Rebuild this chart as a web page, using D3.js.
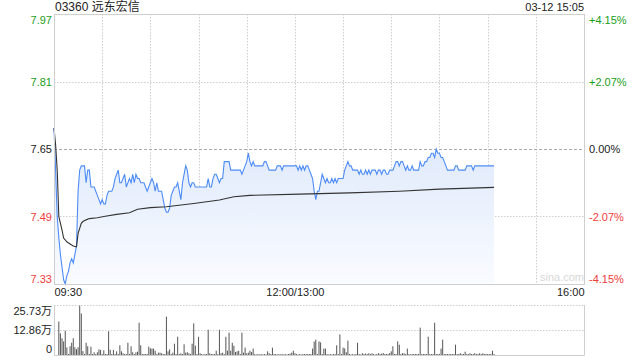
<!DOCTYPE html>
<html>
<head>
<meta charset="utf-8">
<script src="https://cdn.jsdelivr.net/npm/d3@7"></script>
<style>
  body { margin: 0; background: #fff; }
  svg { display: block; font-family: "Liberation Sans", Arial, "Noto Sans CJK SC", sans-serif; }
</style>
</head>
<body>
<figure id="chart" style="margin:0"></figure>
<script>
// ---- data ----
const title = "03360 远东宏信";
const stamp = "03-12 15:05";
const prevClose = 7.65;

const priceTicks = [7.97, 7.81, 7.65, 7.49, 7.33];
const pctLabels = ["+4.15%", "+2.07%", "0.00%", "-2.07%", "-4.15%"];
const timeTicks = [0, 150, 330];
const timeLabels = ["09:30", "12:00/13:00", "16:00"];
const volTicks = [25.73, 12.86, 0];
const volLabels = ["25.73万", "12.86万", "0"];

// one price per minute, 09:30 .. 15:04 (lunch break folded)
const prices = [
  7.70,7.60,7.49,7.44,7.40,7.37,7.34,7.33,7.35,7.36,
  7.38,7.39,7.38,7.40,7.42,7.55,7.60,7.61,7.61,7.61,
  7.57,7.60,7.60,7.56,7.56,7.56,7.55,7.54,7.53,7.52,
  7.53,7.52,7.52,7.54,7.55,7.55,7.55,7.56,7.58,7.59,
  7.60,7.57,7.57,7.58,7.59,7.56,7.57,7.58,7.57,7.59,
  7.57,7.59,7.58,7.58,7.57,7.57,7.57,7.56,7.55,7.56,
  7.57,7.58,7.57,7.55,7.57,7.55,7.55,7.55,7.53,7.51,
  7.50,7.50,7.51,7.54,7.55,7.56,7.56,7.57,7.55,7.53,
  7.57,7.59,7.61,7.60,7.57,7.56,7.57,7.57,7.56,7.56,
  7.56,7.56,7.56,7.56,7.56,7.56,7.58,7.56,7.56,7.58,
  7.59,7.59,7.58,7.57,7.58,7.58,7.62,7.62,7.62,7.62,
  7.60,7.60,7.60,7.60,7.60,7.60,7.60,7.59,7.60,7.61,
  7.62,7.64,7.62,7.61,7.62,7.61,7.61,7.61,7.61,7.61,
  7.61,7.62,7.62,7.61,7.60,7.60,7.60,7.60,7.60,7.61,
  7.61,7.61,7.60,7.61,7.61,7.61,7.61,7.61,7.61,7.61,
  7.61,7.61,7.60,7.61,7.60,7.61,7.60,7.61,7.61,7.60,
  7.59,7.58,7.55,7.53,7.55,7.55,7.57,7.59,7.58,7.57,
  7.58,7.57,7.57,7.58,7.57,7.58,7.57,7.58,7.58,7.58,
  7.58,7.60,7.61,7.62,7.61,7.61,7.60,7.60,7.60,7.60,
  7.59,7.60,7.59,7.59,7.60,7.59,7.60,7.59,7.60,7.60,
  7.60,7.59,7.60,7.60,7.59,7.60,7.60,7.59,7.59,7.60,
  7.60,7.60,7.61,7.62,7.62,7.61,7.62,7.62,7.61,7.60,
  7.61,7.60,7.60,7.61,7.60,7.60,7.60,7.60,7.62,7.61,
  7.61,7.62,7.62,7.63,7.63,7.64,7.64,7.63,7.65,7.64,
  7.64,7.63,7.63,7.62,7.61,7.60,7.60,7.60,7.60,7.60,
  7.61,7.61,7.60,7.60,7.60,7.60,7.60,7.61,7.61,7.61,
  7.61,7.60,7.61,7.61,7.61,7.61,7.61,7.61,7.61,7.61,
  7.61,7.61,7.61,7.61,7.61
];

// average price line, sampled where it bends
const avgMinutes = [0, 1, 2, 3, 5, 6, 8, 10, 12, 14, 15, 17, 18, 20, 22, 27, 31, 39, 47, 52, 60, 70, 87, 103, 112, 122, 153, 184, 215, 240, 274];
const avgValues = [7.70, 7.66, 7.60, 7.49, 7.458, 7.439, 7.43, 7.425, 7.42, 7.418, 7.45, 7.474, 7.478, 7.482, 7.485, 7.487, 7.49, 7.495, 7.499, 7.507, 7.511, 7.513, 7.521, 7.529, 7.537, 7.54, 7.543, 7.546, 7.55, 7.555, 7.559];

// volume per minute, in 万
const volumes = [
  0,0,0,17.2,11.1,8.6,7.0,12.5,3.9,0.5,
  4.5,6.3,8.6,4.0,3.0,4.0,25.4,21.4,2.0,0.5,
  6.3,4.5,0.5,4.3,0.5,1.4,0.5,1.4,2.9,2.6,
  0.5,2.4,0.5,0.5,12.2,2.7,0.5,2.6,0.5,1.9,
  0.5,5.0,1.9,0.9,0.5,0.5,6.3,0.5,4.5,1.4,
  0.5,1.4,1.7,16.6,5.0,0.5,0.5,0.5,0.5,4.3,
  3.4,3.3,3.3,2.2,0.5,1.2,1.2,0.9,0.5,0.5,
  19.7,1.9,2.9,0.5,1.2,5.8,0.5,9.4,0.5,0.9,
  0.5,5.5,1.2,1.4,0.9,0.5,5.8,16.3,4.8,0.5,
  9.4,0.9,0.5,0.3,0.5,0.5,13.0,0.9,0.5,0.5,
  0.5,2.2,0.5,13.0,0.9,1.2,0.5,9.4,2.2,11.5,
  2.2,6.3,4.8,1.5,1.9,2.2,0.5,11.5,1.2,3.8,
  0.9,1.2,2.2,1.5,3.3,0.5,0.3,0.5,0.3,0.5,
  0.3,0.5,0.3,1.9,0.9,0.5,3.8,0.5,0.5,0.3,
  0.5,0.3,0.5,0.3,0.5,0.3,0.5,0.7,1.2,2.2,
  0.9,0.5,0.3,0.5,0.3,0.5,0.5,0.5,0.5,0.5,
  0.5,3.3,6.9,7.9,0.5,7.0,6.5,0.5,3.3,3.3,
  0.5,0.3,0.5,0.3,0.5,0.5,5.0,0.5,10.6,0.5,
  3.8,3.4,1.4,7.4,0.5,0.3,0.5,0.3,0.5,6.3,
  0.5,0.3,0.9,0.5,0.7,0.5,0.9,0.5,0.9,0.5,
  0.3,0.5,0.9,0.5,0.7,1.0,0.5,0.5,0.5,1.0,
  1.9,4.5,0.5,0.5,7.0,5.3,0.5,0.9,0.9,0.5,
  3.3,0.5,0.3,0.5,0.5,0.5,0.5,0.5,14.1,0.5,
  0.5,0.5,0.5,9.4,0.5,0.5,0.5,16.6,0.5,0.5,
  0.5,3.3,7.9,0.5,0.5,0.5,0.5,0.5,0.5,0.5,
  5.3,0.5,0.5,0.9,0.5,0.5,1.7,0.5,0.5,0.9,
  0.5,0.5,0.9,0.5,0.5,0.9,0.5,0.9,0.5,0.5,
  0.5,0.5,0.5,2.2,0.5
];

// ---- layout ----
const width = 640, height = 360;
const plotLeft = 54, plotRight = 584;
const plotTop = 14, plotBottom = 284;
const volTop = 305, volBottom = 355;

const green = "#1a9e1a", red = "#f03c3c", ink = "#222", grid = "#cfcfcf";

const svg = d3.select("figure#chart")
  .append("svg")
  .attr("width", width)
  .attr("height", height);

const xScale = d3.scaleLinear().domain([0, 330]).range([plotLeft, plotRight]);
const yScale = d3.scaleLinear().domain([7.33, 7.97]).range([plotBottom, plotTop]);
const vScale = d3.scaleLinear().domain([0, 25.73]).range([volBottom, volTop]);

function tickColor(i) {
  if (i < 2) return green;
  if (i === 2) return ink;
  return red;
}

// gradient under the price line
const defs = svg.append("defs");
const grad = defs.append("linearGradient")
  .attr("id", "fill")
  .attr("x1", 0).attr("y1", 0).attr("x2", 0).attr("y2", 1);
grad.append("stop").attr("offset", "0%").attr("stop-color", "#dde8fb");
grad.append("stop").attr("offset", "100%").attr("stop-color", "#f9fbff");

// ---- grid ----
svg.append("g")
  .selectAll("line")
  .data(d3.range(30, 330, 30))
  .enter().append("line")
  .attr("x1", d => Math.round(xScale(d)) + 0.5).attr("x2", d => Math.round(xScale(d)) + 0.5)
  .attr("y1", plotTop).attr("y2", plotBottom)
  .attr("stroke", grid)
  .attr("stroke-dasharray", "1.5,1.5");

svg.append("g")
  .selectAll("line")
  .data(priceTicks.slice(1, 4))
  .enter().append("line")
  .attr("x1", plotLeft).attr("x2", plotRight)
  .attr("y1", d => Math.round(yScale(d)) + 0.5).attr("y2", d => Math.round(yScale(d)) + 0.5)
  .attr("stroke", d => d === prevClose ? "#aaa" : grid)
  .attr("stroke-dasharray", d => d === prevClose ? "3,2" : "1.5,1.5");

// ---- price area, price line, average line ----
const series = prices.map((p, i) => ({ m: i, p: p }));

svg.append("path")
  .datum(series)
  .attr("fill", "url(#fill)")
  .attr("d", d3.area().x(d => xScale(d.m)).y0(plotBottom).y1(d => yScale(d.p)));

svg.append("path")
  .datum(series)
  .attr("fill", "none")
  .attr("stroke", "#4d8cf5")
  .attr("stroke-width", 1.1)
  .attr("d", d3.line().x(d => xScale(d.m)).y(d => yScale(d.p)));

const avg = avgMinutes.map((m, i) => ({ m: m, p: avgValues[i] }));
svg.append("path")
  .datum(avg)
  .attr("fill", "none")
  .attr("stroke", "#333")
  .attr("stroke-width", 1.1)
  .attr("d", d3.line().x(d => xScale(d.m)).y(d => yScale(d.p)));

// frame of the price panel
svg.append("rect")
  .attr("x", plotLeft + 0.5).attr("y", plotTop + 0.5)
  .attr("width", plotRight - plotLeft).attr("height", plotBottom - plotTop)
  .attr("fill", "none")
  .attr("stroke", grid);

svg.append("text")
  .attr("x", plotRight - 44).attr("y", plotBottom - 3)
  .attr("fill", "#d8d8d8")
  .attr("font-size", 11)
  .text("sina.com");

// ---- axes ----
const yLeft = svg.append("g")
  .attr("transform", `translate(${plotLeft - 2},0)`)
  .call(d3.axisLeft(yScale).tickValues(priceTicks).tickSize(0).tickPadding(0).tickFormat(d3.format(".2f")));
yLeft.select(".domain").remove();
yLeft.selectAll("text")
  .attr("font-size", 11)
  .attr("font-family", "Liberation Sans, Arial, sans-serif")
  .attr("fill", (d, i) => tickColor(i))
  .attr("dy", (d, i) => i === 0 ? "0.9em" : i === 4 ? "-0.15em" : "0.32em");

const yRight = svg.append("g")
  .attr("transform", `translate(${plotRight + 5},0)`)
  .call(d3.axisRight(yScale).tickValues(priceTicks).tickSize(0).tickPadding(0).tickFormat((d, i) => pctLabels[i]));
yRight.select(".domain").remove();
yRight.selectAll("text")
  .attr("font-size", 11)
  .attr("font-family", "Liberation Sans, Arial, sans-serif")
  .attr("fill", (d, i) => tickColor(i))
  .attr("dy", (d, i) => i === 0 ? "0.9em" : i === 4 ? "-0.15em" : "0.32em");

const xAxis = svg.append("g")
  .attr("transform", `translate(0,${plotBottom + 2})`)
  .call(d3.axisBottom(xScale).tickValues(timeTicks).tickSize(0).tickPadding(2).tickFormat((d, i) => timeLabels[i]));
xAxis.select(".domain").remove();
xAxis.selectAll("text")
  .attr("font-size", 11)
  .attr("font-family", "Liberation Sans, Arial, sans-serif")
  .attr("fill", ink)
  .attr("text-anchor", (d, i) => i === 0 ? "start" : i === 2 ? "end" : "middle");

// ---- volume ----
svg.append("g")
  .selectAll("line")
  .data(volTicks.slice(0, 2))
  .enter().append("line")
  .attr("x1", plotLeft).attr("x2", plotRight)
  .attr("y1", d => vScale(d) + 0.5).attr("y2", d => vScale(d) + 0.5)
  .attr("stroke", grid)
  .attr("stroke-dasharray", "1.5,1.5");

svg.append("g")
  .selectAll("rect")
  .data(volumes)
  .enter().append("rect")
  .attr("x", (d, i) => xScale(i) - 0.5)
  .attr("y", d => vScale(d))
  .attr("width", 1)
  .attr("height", d => volBottom - vScale(d))
  .attr("fill", "#555");

svg.append("path")
  .attr("d", `M${plotLeft + 0.5},${volTop}V${volBottom + 0.5}H${plotRight + 0.5}V${volTop}`)
  .attr("fill", "none")
  .attr("stroke", grid);

const vLeft = svg.append("g")
  .attr("transform", `translate(${plotLeft - 2},0)`)
  .call(d3.axisLeft(vScale).tickValues(volTicks).tickSize(0).tickPadding(0).tickFormat((d, i) => volLabels[i]));
vLeft.select(".domain").remove();
vLeft.selectAll("text")
  .attr("font-size", 11)
  .attr("font-family", "Liberation Sans, Arial, 'Noto Sans CJK SC', sans-serif")
  .attr("fill", ink)
  .attr("dy", (d, i) => i === 0 ? "0.9em" : i === 2 ? "-0.2em" : "0.32em");

// ---- header ----
svg.append("text")
  .attr("x", plotLeft + 1).attr("y", 11)
  .attr("font-size", 12)
  .attr("font-family", "Liberation Sans, Arial, 'Noto Sans CJK SC', sans-serif")
  .attr("fill", ink)
  .text(title);

svg.append("text")
  .attr("x", plotRight).attr("y", 11)
  .attr("text-anchor", "end")
  .attr("font-size", 11)
  .attr("fill", ink)
  .text(stamp);
</script>
</body>
</html>
